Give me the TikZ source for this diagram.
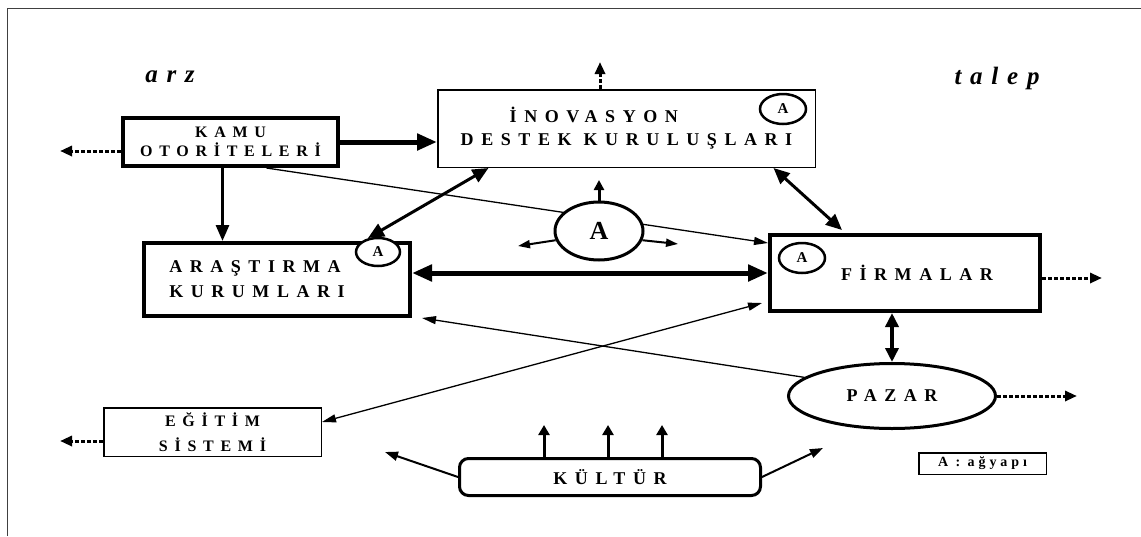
\documentclass[tikz,border=0pt]{standalone}
\usepackage{fontspec}
\setmainfont{Liberation Serif}
\newfontfamily\spaced[LetterSpace=42]{Liberation Serif}
\newfontfamily\wide[LetterSpace=35]{Liberation Serif}
\newfontfamily\narrowsp[LetterSpace=28]{Liberation Serif}
\usetikzlibrary{shapes.geometric,arrows.meta,positioning,backgrounds}

\tikzset{
  boxfont/.style={font=\spaced\bfseries\fontsize{18}{25}\selectfont},
  thickbox/.style={draw, line width=4pt, inner sep=0pt, fill=white, align=center, boxfont},
  thinbox/.style={draw, line width=1.5pt, inner sep=0pt, fill=white, align=center, boxfont},
  heading/.style={font=\wide\bfseries\itshape\fontsize{25}{25}\selectfont},
  netsmall/.style={ellipse, draw, line width=2.5pt, fill=white, inner sep=0pt,
    minimum width=46pt, minimum height=30pt, font=\bfseries\fontsize{15}{15}\selectfont},
  heavy/.style={line width=5pt},
  medium/.style={line width=3pt},
  light/.style={line width=1.3pt},
  outflow/.style={line width=3pt, dash pattern=on 4pt off 2pt, -{Triangle[length=12pt,width=10pt]}}
}

\begin{document}
\begin{tikzpicture}[x=1pt, y=-1pt]
  \useasboundingbox (0,0) rectangle (1141,536);
  % Frame
  \draw[line width=1pt, black!75] (7,536) -- (7,8) -- (1141,8);

  % Supply and demand
  \node[heading] (arz) at (170,77) {arz};
  \node[heading] (talep) at (997,78) {talep};

  % Actors
  \node[thickbox, minimum width=215pt, minimum height=48pt,
    font=\spaced\bfseries\fontsize{16}{19}\selectfont] (kamu) at (230.5,142) {KAMU\\OTORİTELERİ};
  \node[thinbox, minimum width=377.5pt, minimum height=77.5pt, align=left,
    font=\spaced\bfseries\fontsize{18}{23}\selectfont]
    (inov) at (626.5,128.5) {\hspace*{49pt}İNOVASYON\\DESTEK KURULUŞLARI};
  \node[thickbox, minimum width=266pt, minimum height=73pt, align=left]
    (arast) at (277,279.5) {ARAŞTIRMA\\KURUMLARI\hspace*{40pt}};
  \node[thickbox, minimum width=270pt, minimum height=76pt]
    (firma) at (905,273) {\hspace*{24pt}FİRMALAR};
  \node[thinbox, minimum width=217.5pt, minimum height=48.5pt,
    font=\spaced\bfseries\fontsize{16}{25}\selectfont] (egitim) at (212.5,432) {EĞİTİM\\SİSTEMİ};
  \node[ellipse, draw, line width=3pt, inner sep=0pt, minimum width=207pt,
    minimum height=65pt, boxfont] (pazar) at (892,396) {PAZAR};
  \node[draw, line width=3pt, rounded corners=9pt, inner sep=0pt, minimum width=301pt,
    minimum height=37pt, boxfont] (kultur) at (610,477) {KÜLTÜR};
  \node[draw, line width=1.5pt, inner sep=0pt, minimum width=127.5pt, minimum height=21.5pt,
    font=\narrowsp\bfseries\fontsize{14}{14}\selectfont] (legend) at (982.5,463.5) {A : ağyapı};

  % Networks
  \node[netsmall, minimum width=46pt, minimum height=30pt] (inovA) at (783,109) {A};
  \node[netsmall, minimum width=44pt, minimum height=28pt] (arastA) at (378,252) {A};
  \node[netsmall, minimum width=46pt, minimum height=30pt] (firmaA) at (802,258) {A};
  \node[ellipse, draw, line width=3pt, fill=white, inner sep=0pt, minimum width=88pt,
    minimum height=58pt, font=\bfseries\fontsize{26}{26}\selectfont] (netA) at (599,231) {A};

  % Free ends
  \coordinate (kout) at (60,151);
  \coordinate (iout) at (600,62);
  \coordinate (fout) at (1102,278);
  \coordinate (pout) at (1077,396);
  \coordinate (eout) at (60,441);
  \coordinate (aup) at (599,180);
  \coordinate (aleft) at (518,246);
  \coordinate (aright) at (678,244);
  \coordinate (kleft) at (385,452);
  \coordinate (kright) at (823,448);

  % Links
  \draw[heavy, -{Triangle[length=20pt,width=16pt]}] (kamu.east) -- (kamu.east -| inov.west);
  \draw[medium, -{Triangle[length=16pt,width=13pt]}] ([xshift=-8pt]kamu.south) -- ([xshift=-8pt]kamu.south |- arast.north);
  \begin{pgfonlayer}{background}
    \draw[light, -{Triangle[length=14pt,width=8pt]}] ([xshift=36pt]kamu.south) -- ([yshift=30pt]firma.west);
  \end{pgfonlayer}
  \draw[medium, {Triangle[length=16pt,width=14pt]}-{Triangle[length=16pt,width=14pt]}]
    ([xshift=-138pt]inov.south) -- ([xshift=91pt,yshift=3pt]arast.north);
  \draw[medium, {Triangle[length=16pt,width=14pt]}-{Triangle[length=16pt,width=14pt]}]
    ([xshift=147pt]inov.south) -- ([xshift=-63pt,yshift=3pt]firma.north);
  \draw[heavy, {Triangle[length=20pt,width=16pt]}-{Triangle[length=20pt,width=16pt]}]
    (arast.east |- firma.west) -- (firma.west);
  \draw[line width=4pt, {Triangle[length=14pt,width=13pt]}-{Triangle[length=14pt,width=13pt]}]
    (pazar.north |- firma.south) -- (pazar.north);
  \draw[light, -{Triangle[length=14pt,width=8pt]}] (pazar.168) -- ([xshift=10pt]arast.south east);
  \draw[light, {Triangle[length=14pt,width=8pt]}-{Triangle[length=14pt,width=8pt]}]
    ([yshift=10pt]egitim.east) -- ([xshift=-6pt,yshift=-30pt]firma.west);

  % Network effects
  \draw[medium, -{Triangle[length=10pt,width=10pt]}] (netA.north) -- (aup);
  \draw[line width=2pt, -{Triangle[length=12pt,width=8pt]}] (netA.192) -- (aleft);
  \draw[line width=2pt, -{Triangle[length=12pt,width=8pt]}] (netA.348) -- (aright);

  % Culture
  \foreach \x/\n in {544/1, 608/2, 662/3} {
    \coordinate (kup\n) at (\x,425);
    \draw[medium, -{Triangle[length=10pt,width=11pt]}] (kup\n |- kultur.north) -- (kup\n);
  }
  \draw[line width=2pt, -{Triangle[length=13pt,width=9pt]}] (kultur.west) -- (kleft);
  \draw[line width=2pt, -{Triangle[length=13pt,width=9pt]}] (kultur.east) -- (kright);

  % Outflows
  \draw[outflow] (kamu.west |- kout) -- (kout);
  \draw[outflow] (iout |- inov.north) -- (iout);
  \draw[outflow] (firma.east |- fout) -- (fout);
  \draw[outflow] (pazar.east) -- (pout);
  \draw[outflow] (egitim.west |- eout) -- (eout);
\end{tikzpicture}
\end{document}
